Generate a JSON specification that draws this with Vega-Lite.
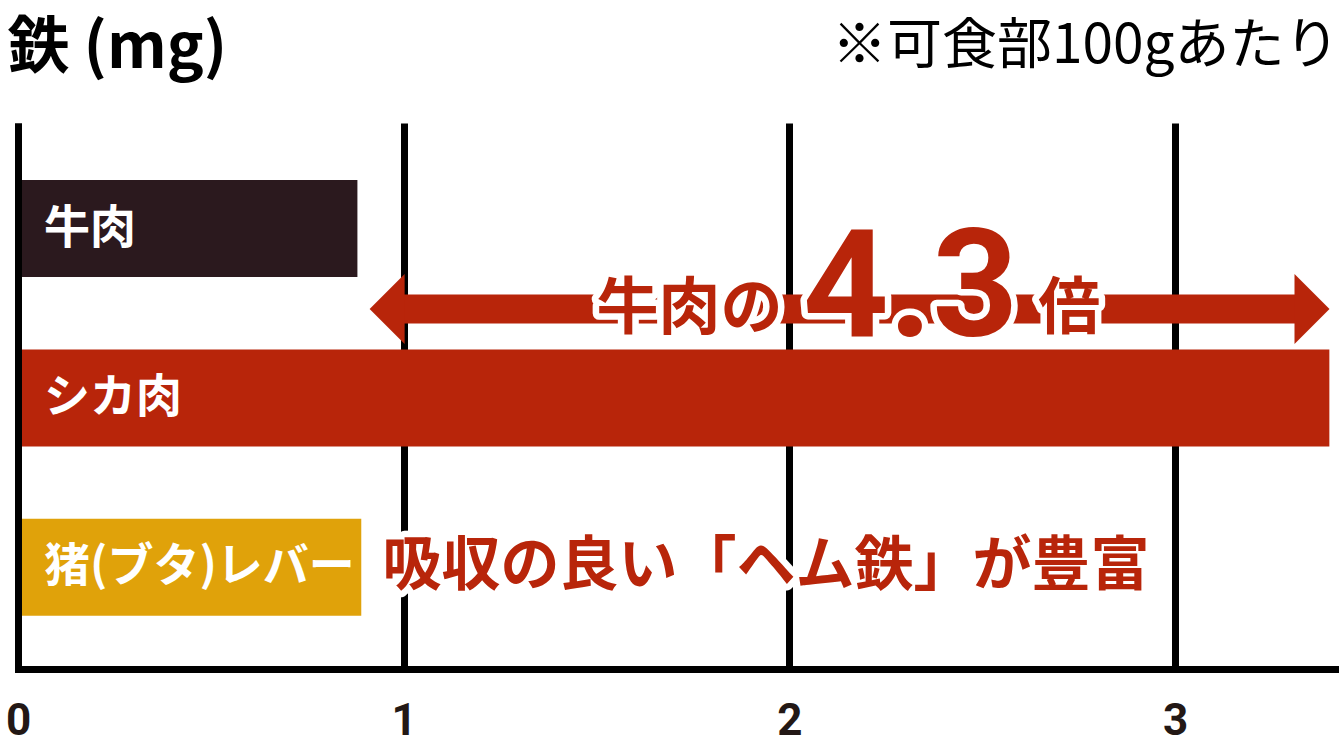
{
  "$schema": "https://vega.github.io/schema/vega-lite/v6.json",
  "width": 1321,
  "height": 546,
  "autosize": {"type": "none"},
  "padding": {"left": 18, "top": 123, "right": 0, "bottom": 75},
  "background": "white",
  "config": {"view": {"stroke": null}, "font": "Noto Sans CJK JP"},
  "datasets": {
    "foods": [
      {"food": "牛肉", "iron": 0.88, "row": 3},
      {"food": "シカ肉", "iron": 3.4, "row": 2},
      {"food": "猪(ブタ)レバー", "iron": 0.89, "row": 1}
    ],
    "arrow": [{"from": 0.98, "to": 3.33, "row": 2.525}],
    "heads": [
      {"x": 0.957, "row": 2.525, "dir": "left"},
      {"x": 3.355, "row": 2.525, "dir": "right"}
    ],
    "notes": [
      {"part": "cjk", "text": "牛肉の", "x": 1.5, "row": 2.365},
      {"part": "num", "text": "4.3", "x": 2.314, "row": 2.365},
      {"part": "cjk", "text": "倍", "x": 2.645, "row": 2.365},
      {"part": "heme", "text": "吸収の良い「ヘム鉄」が豊富", "x": 0.945, "row": 1}
    ]
  },
  "layer": [
    {
      "data": {"name": "foods"},
      "mark": {"type": "bar", "orient": "horizontal", "size": 97},
      "encoding": {
        "x": {
          "field": "iron", "type": "quantitative", "stack": null,
          "scale": {"domain": [0, 3.425], "nice": false},
          "title": "※可食部100gあたり",
          "axis": {
            "values": [0, 1, 2, 3], "format": "d", "ticks": false,
            "domainColor": "#000", "domainWidth": 7, "domainCap": "square",
            "grid": true, "gridColor": "#000", "gridWidth": 7, "gridOpacity": 1,
            "labelFont": "Liberation Sans Narrow, Roboto, sans-serif",
            "labelFontWeight": "bold", "labelFontSize": 44, "labelColor": "#231815",
            "labelPadding": 30, "labelBaseline": "top", "labelFlush": false, "labelOverlap": false,
            "titleX": 1321, "titleY": -607, "titleAlign": "right", "titleBaseline": "alphabetic",
            "titleFont": "Noto Sans CJK JP", "titleFontSize": 55, "titleFontWeight": "normal", "titleColor": "#000"
          }
        },
        "y": {
          "field": "row", "type": "quantitative",
          "scale": {"domain": [0.429, 3.594], "nice": false, "zero": false},
          "title": "鉄 (mg)",
          "axis": {
            "ticks": false, "labels": false, "grid": false,
            "domainColor": "#000", "domainWidth": 7, "zindex": 1,
            "titleAngle": 0, "titleAlign": "left", "titleBaseline": "alphabetic",
            "titleX": -11, "titleY": -56,
            "titleFont": "Noto Sans CJK JP", "titleFontSize": 62, "titleFontWeight": "bold", "titleColor": "#000"
          }
        },
        "color": {
          "field": "food", "type": "nominal",
          "scale": {"domain": ["牛肉", "シカ肉", "猪(ブタ)レバー"], "range": ["#2b191e", "#b8250a", "#e0a20a"]},
          "legend": null
        }
      }
    },
    {
      "data": {"name": "foods"},
      "mark": {"type": "text", "align": "left", "baseline": "middle", "dx": 26, "fontSize": 46, "fontWeight": "bold", "color": "white", "font": "Noto Sans CJK JP"},
      "encoding": {
        "x": {"datum": 0, "type": "quantitative"},
        "y": {"field": "row", "type": "quantitative"},
        "text": {"field": "food"}
      }
    },
    {
      "data": {"name": "arrow"},
      "mark": {"type": "rule", "strokeWidth": 29, "strokeCap": "butt", "color": "#b8250a"},
      "encoding": {
        "x": {"field": "from", "type": "quantitative"},
        "x2": {"field": "to"},
        "y": {"field": "row", "type": "quantitative"}
      }
    },
    {
      "data": {"name": "heads"},
      "mark": {"type": "point", "filled": true, "size": 4900, "opacity": 1, "color": "#b8250a", "strokeWidth": 0},
      "encoding": {
        "x": {"field": "x", "type": "quantitative"},
        "y": {"field": "row", "type": "quantitative"},
        "shape": {
          "field": "dir", "type": "nominal",
          "scale": {"domain": ["left", "right"], "range": ["M0.5,-1L-0.5,0L0.5,1Z", "M-0.5,-1L0.5,0L-0.5,1Z"]},
          "legend": null
        }
      }
    },
    {
      "data": {"name": "notes"},
      "transform": [{"filter": "datum.part == 'cjk'"}],
      "mark": {"type": "text", "align": "left", "baseline": "alphabetic", "dy": -7, "fontSize": 62, "fontWeight": "bold", "font": "Noto Sans CJK JP", "fill": "white", "stroke": "white", "strokeWidth": 13, "strokeJoin": "round"},
      "encoding": {
        "x": {"field": "x", "type": "quantitative"},
        "y": {"field": "row", "type": "quantitative"},
        "text": {"field": "text"}
      }
    },
    {
      "data": {"name": "notes"},
      "transform": [{"filter": "datum.part == 'num'"}],
      "mark": {"type": "text", "align": "center", "baseline": "alphabetic", "fontSize": 150, "fontWeight": "bold", "font": "Roboto", "fill": "white", "stroke": "white", "strokeWidth": 13, "strokeJoin": "round"},
      "encoding": {
        "x": {"field": "x", "type": "quantitative"},
        "y": {"field": "row", "type": "quantitative"},
        "text": {"field": "text"}
      }
    },
    {
      "data": {"name": "notes"},
      "transform": [{"filter": "datum.part == 'heme'"}],
      "mark": {"type": "text", "align": "left", "baseline": "middle", "fontSize": 59, "fontWeight": "bold", "font": "Noto Sans CJK JP", "fill": "white", "stroke": "white", "strokeWidth": 13, "strokeJoin": "round"},
      "encoding": {
        "x": {"field": "x", "type": "quantitative"},
        "y": {"field": "row", "type": "quantitative"},
        "text": {"field": "text"}
      }
    },
    {
      "data": {"name": "notes"},
      "transform": [{"filter": "datum.part == 'cjk'"}],
      "mark": {"type": "text", "align": "left", "baseline": "alphabetic", "dy": -7, "fontSize": 62, "fontWeight": "bold", "font": "Noto Sans CJK JP", "fill": "#b8250a"},
      "encoding": {
        "x": {"field": "x", "type": "quantitative"},
        "y": {"field": "row", "type": "quantitative"},
        "text": {"field": "text"}
      }
    },
    {
      "data": {"name": "notes"},
      "transform": [{"filter": "datum.part == 'num'"}],
      "mark": {"type": "text", "align": "center", "baseline": "alphabetic", "fontSize": 150, "fontWeight": "bold", "font": "Roboto", "fill": "#b8250a"},
      "encoding": {
        "x": {"field": "x", "type": "quantitative"},
        "y": {"field": "row", "type": "quantitative"},
        "text": {"field": "text"}
      }
    },
    {
      "data": {"name": "notes"},
      "transform": [{"filter": "datum.part == 'heme'"}],
      "mark": {"type": "text", "align": "left", "baseline": "middle", "fontSize": 59, "fontWeight": "bold", "font": "Noto Sans CJK JP", "fill": "#b8250a"},
      "encoding": {
        "x": {"field": "x", "type": "quantitative"},
        "y": {"field": "row", "type": "quantitative"},
        "text": {"field": "text"}
      }
    }
  ]
}
